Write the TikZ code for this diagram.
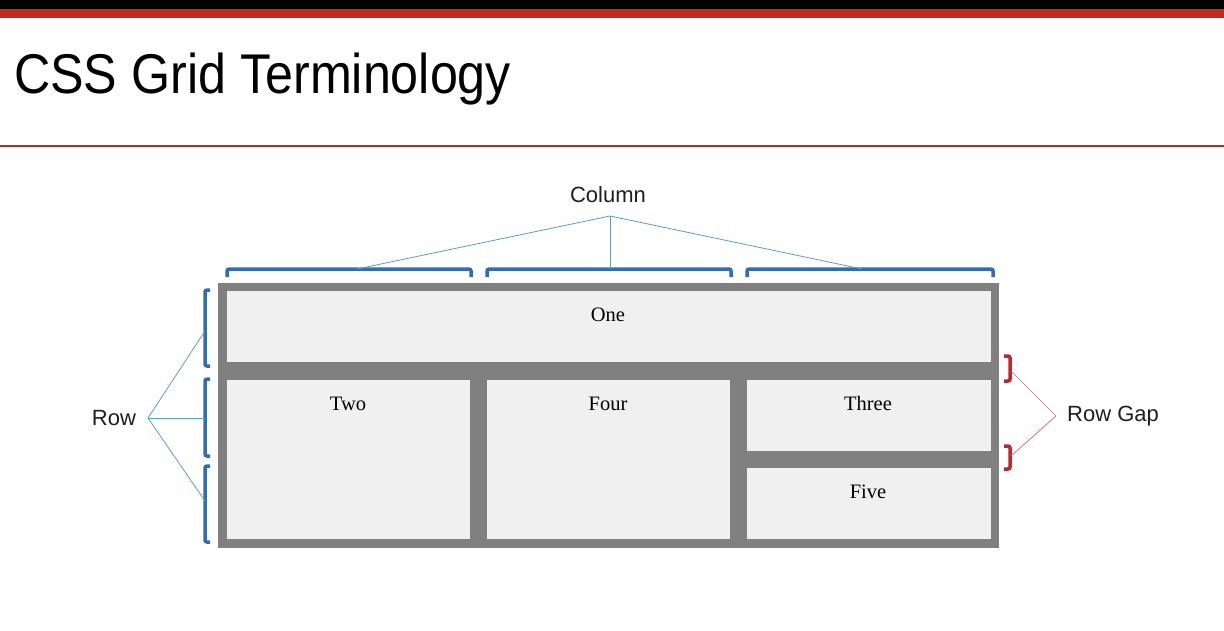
\documentclass[tikz,border=0pt]{standalone}
\usepackage{fontspec}
\setmainfont{Liberation Sans}
\newfontfamily\titlefont[FakeStretch=0.897]{Liberation Sans}
\newfontfamily\cellfont{Liberation Serif}
\definecolor{topred}{HTML}{BE2A1E}
\definecolor{rulered}{HTML}{B02A27}
\definecolor{brblue}{HTML}{2F6EB5}
\definecolor{lnblue}{HTML}{5B9BD5}
\definecolor{brred}{HTML}{C0272D}
\definecolor{lnred}{HTML}{D46A6A}
\definecolor{gridgray}{HTML}{808080}
\definecolor{cellfill}{HTML}{F0F0F0}
\definecolor{labeltext}{HTML}{1E1E1E}
\begin{document}
\begin{tikzpicture}[x=1pt,y=-1pt,
  gridbox/.style={fill=gridgray, draw=none, inner sep=0pt, outer sep=0pt},
  cellbox/.style={fill=cellfill, draw=none, inner sep=0pt, outer sep=0pt},
  celltext/.style={anchor=base, inner sep=0pt, font=\cellfont\fontsize{20.5}{24}\selectfont},
  termlabel/.style={text=labeltext, inner sep=0pt, font=\fontsize{22}{26}\selectfont},
  bluebracket/.style={draw=brblue, line width=3.5pt, rounded corners=2pt},
  redbracket/.style={draw=brred, line width=3.5pt, rounded corners=2pt},
  blueline/.style={draw=lnblue, line width=0.8pt},
  redline/.style={draw=lnred, line width=0.7pt}]

% page frame
\useasboundingbox (0,0) rectangle (1224,630);
\fill[white] (0,0) rectangle (1224,630);

% header bands and title
\fill[black] (0,0) rectangle (1224,9);
\fill[topred] (0,9) rectangle (1224,18);
\node (title) [anchor=base west, inner sep=0pt, font=\titlefont\fontsize{56}{60}\selectfont]
  at (14,93) {CSS Grid Terminology};
\draw[rulered, line width=2pt] (0,145.5) -- (1224,145.5);

% grid container and items
\node (grid) [gridbox, minimum width=781pt, minimum height=265pt] at (608.5,415.5) {};
\node (one)   [cellbox, minimum width=764pt, minimum height=71pt] at (609,326.5) {};
\node (two)   [cellbox, minimum width=243pt, minimum height=159pt] at (348.5,459.5) {};
\node (four)  [cellbox, minimum width=243pt, minimum height=159pt] at (608.5,459.5) {};
\node (three) [cellbox, minimum width=244pt, minimum height=71pt] at (869,415.5) {};
\node (five)  [cellbox, minimum width=244pt, minimum height=71pt] at (869,503.5) {};

\node (onetxt)   [celltext] at (608,321) {One};
\node (twotxt)   [celltext] at (348,410) {Two};
\node (fourtxt)  [celltext] at (608,410) {Four};
\node (threetxt) [celltext] at (868,410) {Three};
\node (fivetxt)  [celltext] at (868,498) {Five};

% column brackets
\draw[bluebracket] (227,277) -- (227,269) -- (471,269) -- (471,277);
\draw[bluebracket] (487,277) -- (487,269) -- (731,269) -- (731,277);
\draw[bluebracket] (747,277) -- (747,269) -- (993,269) -- (993,277);
\coordinate (col1) at (357,269);
\coordinate (col2) at (610,269);
\coordinate (col3) at (862,269);

% row brackets
\draw[bluebracket] (210,290) -- (205,290) -- (205,366) -- (210,366);
\draw[bluebracket] (210,379) -- (205,379) -- (205,456) -- (210,456);
\draw[bluebracket] (210,466) -- (205,466) -- (205,542) -- (210,542);
\coordinate (row1) at (205,331);
\coordinate (row2) at (205,418);
\coordinate (row3) at (205,501);

% row gap brackets
\draw[redbracket] (1004,356) -- (1010,356) -- (1010,381) -- (1004,381);
\draw[redbracket] (1004,446) -- (1010,446) -- (1010,469) -- (1004,469);
\coordinate (gap1) at (1011,371);
\coordinate (gap2) at (1011,456);

% term labels and their leader lines
\node (colname) [termlabel] at (608,195) {Column};
\coordinate (colhub) at (610,216);
\draw[blueline] (colhub) -- (col1);
\draw[blueline] (colhub) -- (col2);
\draw[blueline] (colhub) -- (col3);

\node (rowname) [termlabel] at (114,418) {Row};
\coordinate (rowhub) at (148,418);
\draw[blueline] (rowhub) -- (row1);
\draw[blueline] (rowhub) -- (row2);
\draw[blueline] (rowhub) -- (row3);

\node (gapname) [termlabel] at (1113,416) {Row Gap};
\coordinate (gaphub) at (1056,416);
\draw[redline] (gaphub) -- (gap1);
\draw[redline] (gaphub) -- (gap2);
\end{tikzpicture}
\end{document}
